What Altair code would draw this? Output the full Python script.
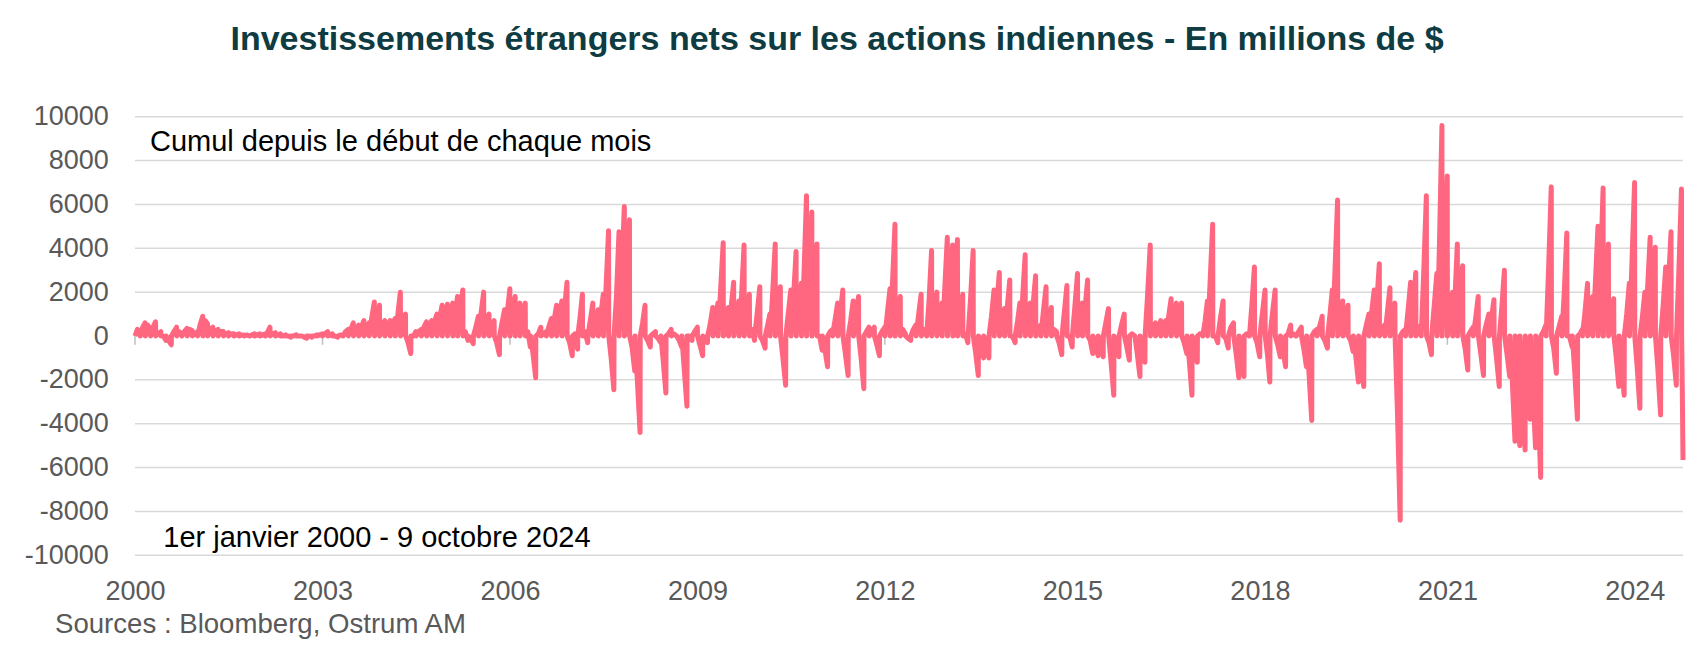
import calendar
import altair as alt
import pandas as pd

# Cumulative net flow since the start of each month (USD mn).
# End-of-month values
v2000 = [100, 600, 300, 650, 200, -200, -400, 400, 100, 350, 250, 200]
v2001 = [900, 550, 400, 300, 200, 150, 100, 100, 50, 0, 100, 100]
v2002 = [100, 400, 150, 100, 50, -50, 50, 0, -100, -50, 50, 100]
v2003 = [200, 100, -50, 0, 300, 600, 500, 700, 600, 1550, 1400, 700]
v2004 = [700, 800, 2000, 1000, -800, 200, 300, 650, 700, 1000, 1400, 1450]
v2005 = [1500, 1800, 2100, -200, -350, 900, 2000, 1000, 700, -850, 1200, 2150]
v2006 = [1800, 1500, 1500, -500, -1900, 400, 200, 800, 1400, 1600, 2450, -900]
v2007 = [-600, 1900, -300, 1500, 1200, 1900, 4800, -2450, 4750, 5900, 5300, -1600]
v2008 = [-4400, 1400, -500, 200, -300, -2600, 300, 0, -500, -3200, -200, 400]
v2009 = [-900, -300, 1300, 1500, 4250, 1300, 2450, 1600, 4150, 1900, -200, 2250]
v2010 = [-550, 1000, 4200, 2250, -2250, 2100, 3850, 2400, 6400, 5650, 4200, -650]
v2011 = [-1400, 300, 1500, 2100, -1800, 1600, 1800, -2400, 400, 400, -900, 400]
v2012 = [2150, 5100, 1800, 100, -200, 500, 1900, 200, 3900, 2000, 1500, 4500]
v2013 = [4150, 4400, 1900, -300, 3900, -1800, -1000, -1000, 2100, 2900, 1250, 2550]
v2014 = [-300, 1500, 3700, 1500, 2750, 500, 2250, 1300, 200, -850, 2300, -500]
v2015 = [2850, 1500, 2550, -800, -900, -950, 1250, -2700, -950, 1000, -1100, 0]
v2016 = [-1850, -1200, 4150, 600, 700, 700, 1700, 1500, 1500, -800, -2700, -1200]
v2017 = [100, 1600, 5100, -300, 1600, -550, 600, -1900, -1850, 0, 3150, -950]
v2018 = [2100, -2100, 2100, -950, -1400, 500, 0, 400, -1400, -3850, 300, 900]
v2019 = [-550, 2100, 6200, 1600, 1400, -700, -2100, -2300, 1000, 2100, 3300, 500]
v2020 = [2200, 1500, -8400, 300, 2450, 2900, 500, 6400, -850, 2850, 9600, 7300]
v2021 = [2000, 4200, 3200, -1550, 400, 1800, -1800, 1000, 1650, -2300, 3000, -1850]
v2022 = [-4800, -5000, -5200, -3800, -5100, -6450, 500, 6800, -1700, 900, 4700, -500]
v2023 = [-3800, 300, 2400, 1800, 5000, 6750, 4200, 1700, -2300, -2700, 2400, 7000]
v2024 = [-3300, 2000, 4500, 4050, -3600, 3150, 4750, -2250, 6700, -5650]

# Mid-month values
m2000 = [300, 400, 500, 400, 100, 0, -200, 200, 200, 200, 300, 100]
m2001 = [500, 700, 300, 200, 200, 100, 100, 50, 50, 50, 50, 50]
m2002 = [50, 200, 100, 50, 0, 0, 0, 0, -50, 0, 0, 50]
m2003 = [100, 50, 0, 50, 200, 300, 300, 400, 300, 800, 700, 500]
m2004 = [400, 500, 900, 600, -300, 0, 200, 400, 400, 600, 800, 900]
m2005 = [800, 1000, 1200, 200, -100, 400, 1000, 600, 500, -300, 600, 1000]
m2006 = [1000, 900, 800, 200, -800, 100, 100, 400, 700, 800, 1200, -300]
m2007 = [100, 900, 200, 700, 600, 900, 2000, -1000, 1800, 2500, 2200, -500]
m2008 = [-2000, 600, -200, 100, -100, -1200, 100, 100, -200, -1500, 0, 200]
m2009 = [-400, -100, 500, 700, 2000, 700, 1200, 800, 1800, 900, 300, 1000]
m2010 = [-200, 500, 1800, 1200, -1000, 1000, 1600, 1200, 2800, 2500, 2000, 0]
m2011 = [-600, 200, 700, 1000, -800, 700, 900, -1000, 200, 200, -400, 200]
m2012 = [1000, 2500, 1000, 300, -100, 300, 900, 300, 1600, 1000, 800, 2000]
m2013 = [2000, 2000, 1000, 100, 1600, -800, -500, -400, 900, 1300, 700, 1200]
m2014 = [0, 700, 1600, 800, 1300, 400, 1100, 700, 300, -300, 1100, 0]
m2015 = [1300, 800, 1200, -200, -400, -400, 600, -1200, -400, 500, -500, 100]
m2016 = [-800, -500, 1800, 300, 300, 400, 800, 800, 800, -300, -1200, -500]
m2017 = [100, 700, 2300, 0, 800, -100, 400, -800, -800, 100, 1400, -300]
m2018 = [1000, -900, 1000, -400, -600, 100, 100, 200, -600, -1700, 200, 400]
m2019 = [-200, 1000, 2800, 800, 700, -200, -900, -1000, 500, 1000, 1500, 300]
m2020 = [1000, 700, -3500, 200, 1100, 1300, 300, 2800, -300, 1300, 4000, 3300]
m2021 = [900, 1900, 1500, -600, 200, 800, -800, 500, 800, -1000, 1300, -800]
m2022 = [-2000, -2200, -2500, -1500, -2300, -3000, 200, 3000, -600, 400, 2000, 0]
m2023 = [-1600, 100, 1000, 800, 2300, 3000, 2000, 800, -1000, -1200, 1000, 3200]
m2024 = [-1400, 900, 2000, 1800, -1500, 1400, 2200, -900, 3000, -2500]

years = list(range(2000, 2025))
ends = [v2000, v2001, v2002, v2003, v2004, v2005, v2006, v2007, v2008, v2009,
        v2010, v2011, v2012, v2013, v2014, v2015, v2016, v2017, v2018, v2019,
        v2020, v2021, v2022, v2023, v2024]
mids = [m2000, m2001, m2002, m2003, m2004, m2005, m2006, m2007, m2008, m2009,
        m2010, m2011, m2012, m2013, m2014, m2015, m2016, m2017, m2018, m2019,
        m2020, m2021, m2022, m2023, m2024]
last_day = "2024-10-09"
last_mid = "2024-10-05"

tick_years = [2000, 2003, 2006, 2009, 2012, 2015, 2018, 2021, 2024]
y_ticks = list(range(-10000, 10001, 2000))

title_text = "Investissements  étrangers nets sur les actions indiennes - En millions de $"
note_top = "Cumul depuis le début de chaque mois"
note_bottom = "1er janvier 2000 - 9 octobre 2024"
source_text = "Sources : Bloomberg, Ostrum AM"

rows = []
for yr, evals, mvals in zip(years, ends, mids):
    for m, (v, mv) in enumerate(zip(evals, mvals), start=1):
        start = f"{yr}-{m:02d}-01"
        if yr == 2024 and m == len(evals):
            mid, end = last_mid, last_day
        else:
            mid = f"{yr}-{m:02d}-15"
            end = f"{yr}-{m:02d}-{calendar.monthrange(yr, m)[1]:02d}"
        rows.append({"d": start, "v": 0})
        rows.append({"d": mid, "v": mv})
        rows.append({"d": end, "v": v})
df = pd.DataFrame(rows)

FONT = "Liberation Sans"
GRAY = "#595959"

xscale = alt.Scale(type="utc", domain=[alt.DateTime(year=2000, month=1, date=1, utc=True),
                                       alt.DateTime(year=2024, month=10, date=9, utc=True)])
yscale = alt.Scale(domain=[-10000, 10000], nice=False, zero=False)

y_axis = alt.Axis(values=y_ticks, labelFontSize=27, labelColor=GRAY, labelFont=FONT,
                  labelExpr="datum.value < 0 ? '-' + abs(datum.value) : '' + datum.value",
                  domain=False, ticks=False, tickSize=0, labelPadding=26.7,
                  grid=False, title=None)
x_axis = alt.Axis(values=[alt.DateTime(year=y, month=1, date=1, utc=True) for y in tick_years],
                  format="%Y", labelFontSize=27, labelColor=GRAY, labelFont=FONT,
                  domain=False, ticks=False, tickSize=0, grid=False, labelPadding=22.7,
                  title=None, labelFlush=False)

grid = alt.Chart(pd.DataFrame({"v": y_ticks})).mark_rule(color="#d9d9d9", strokeWidth=1.5).encode(
    y=alt.Y("v:Q", scale=yscale, axis=y_axis), x=alt.value(0), x2=alt.value(1548))

line = alt.Chart(df).mark_line(color="#FF6680", strokeWidth=5, strokeJoin="round").encode(
    x=alt.X("d:T", scale=xscale, axis=x_axis),
    y=alt.Y("v:Q", scale=yscale, axis=y_axis),
)

tick_df = pd.DataFrame({"d": [f"{y}-01-01" for y in tick_years]})
ticks = alt.Chart(tick_df).mark_rule(color="#bfbfbf", strokeWidth=1.5).encode(
    x=alt.X("d:T", scale=xscale, axis=x_axis), y=alt.datum(0), y2=alt.datum(-400))

def label(text, x, y, size, color, align="left", weight="normal"):
    return alt.Chart(pd.DataFrame({"t": [text]})).mark_text(
        align=align, baseline="alphabetic", fontSize=size, font=FONT, color=color,
        fontWeight=weight).encode(x=alt.value(x), y=alt.value(y), text="t:N")

title = label(title_text, 702, -66.7, 34, "#0E3C42", align="center", weight="bold")
n1 = label(note_top, 15, 34.3, 29, "#000000")
n2 = label(note_bottom, 28.3, 430, 29, "#000000")
src = label(source_text, -80, 516.5, 27.6, GRAY)

chart = alt.layer(grid, ticks, line, title, n1, n2, src).properties(
    width=1548, height=438.6, autosize="none", background="white",
    padding={"left": 127, "top": 108.7, "right": 17, "bottom": 85.7},
).configure_view(stroke=None)

chart.save("out.html", embed_options={"renderer": "svg", "actions": False})
